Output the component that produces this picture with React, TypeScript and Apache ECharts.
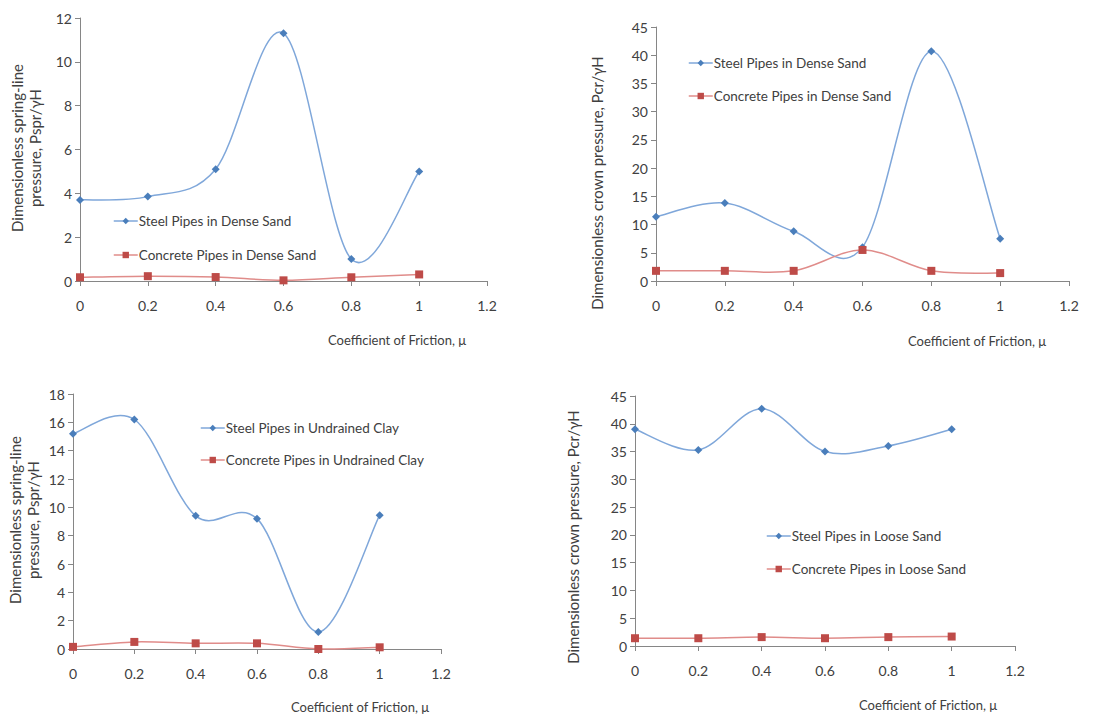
import React, { useEffect, useRef } from "react";
import * as echarts from "echarts";

const xValues = [0, 0.2, 0.4, 0.6, 0.8, 1];

// Panel 1: spring-line pressure, dense sand
const p1Steel = [3.7, 3.85, 5.1, 11.3, 1.0, 5.0];
const p1Concrete = [0.17, 0.22, 0.18, 0.03, 0.17, 0.3];
// Panel 2: crown pressure, dense sand
const p2Steel = [11.4, 13.8, 8.8, 6.0, 40.7, 7.5];
const p2Concrete = [1.8, 1.8, 1.8, 5.5, 1.8, 1.4];
// Panel 3: spring-line pressure, undrained clay
const p3Steel = [15.2, 16.2, 9.4, 9.2, 1.2, 9.45];
const p3Concrete = [0.15, 0.5, 0.4, 0.4, 0.0, 0.12];
// Panel 4: crown pressure, loose sand
const p4Steel = [39, 35.3, 42.7, 35, 36, 39];
const p4Concrete = [1.4, 1.4, 1.6, 1.4, 1.6, 1.7];

const yMax = [12, 45, 18, 45];
const yInterval = [2, 5, 2, 5];

const steelNames = [
  "Steel Pipes in Dense Sand",
  "Steel Pipes in Dense Sand ",
  "Steel Pipes in Undrained Clay",
  "Steel Pipes in Loose Sand",
];
const concreteNames = [
  "Concrete Pipes in Dense Sand",
  "Concrete Pipes in Dense Sand ",
  "Concrete Pipes in Undrained Clay",
  "Concrete Pipes in Loose Sand",
];
const xTitle = "Coefficient of Friction, μ";
const yTitles = [
  ["Dimensionless spring-line", "pressure, Pspr/γH"],
  ["Dimensionless crown pressure, Pcr/γH"],
  ["Dimensionless spring-line", "pressure, Pspr/γH"],
  ["Dimensionless crown pressure, Pcr/γH"],
];

const FONT = "Lato, 'Open Sans', sans-serif";
const TXT = "#404040";
const AXIS = "#868686";
const STEEL_LINE = "#7FA7DA";
const STEEL_MARK = "#4A7EBB";
const CONC_LINE = "#E08C8A";
const CONC_MARK = "#BE4B48";

const grids = [
  { left: 80, top: 18, width: 407, height: 263 },
  { left: 656, top: 27, width: 413, height: 254 },
  { left: 73, top: 394, width: 368, height: 255 },
  { left: 635, top: 396, width: 380, height: 250 },
];
const legendPos = [
  { left: 113, top: 213, gap: 18 },
  { left: 688, top: 55, gap: 17 },
  { left: 200, top: 420, gap: 16 },
  { left: 766, top: 528, gap: 17 },
];
const xTitlePos = [
  { x: 397, y: 340 },
  { x: 977, y: 341 },
  { x: 360, y: 707 },
  { x: 928, y: 705 },
];
const yTitlePos = [
  { x: 26, y: 148 },
  { x: 597, y: 183 },
  { x: 24, y: 520 },
  { x: 573, y: 537 },
];

const steelData = [p1Steel, p2Steel, p3Steel, p4Steel];
const concData = [p1Concrete, p2Concrete, p3Concrete, p4Concrete];

// Excel-like smoothed curve: one bezier segment per pair of points, computed in pixel space
function smoothSeries(idx: number, vals: number[], color: string) {
  return {
    type: "custom",
    xAxisIndex: idx,
    yAxisIndex: idx,
    z: 1,
    silent: true,
    data: xValues.slice(0, -1).map((x, k) => [x, vals[k]]),
    renderItem: (params: any, api: any) => {
      const k = params.dataIndex;
      const n = xValues.length;
      const pt = (j: number) => {
        const jj = Math.max(0, Math.min(n - 1, j));
        return api.coord([xValues[jj], vals[jj]]);
      };
      const p0 = pt(k - 1);
      const p1 = pt(k);
      const p2 = pt(k + 1);
      const p3 = pt(k + 2);
      const t = 1 / 6;
      return {
        type: "bezierCurve",
        shape: {
          x1: p1[0],
          y1: p1[1],
          x2: p2[0],
          y2: p2[1],
          cpx1: p1[0] + (p2[0] - p0[0]) * t,
          cpy1: p1[1] + (p2[1] - p0[1]) * t,
          cpx2: p2[0] - (p3[0] - p1[0]) * t,
          cpy2: p2[1] - (p3[1] - p1[1]) * t,
        },
        style: { stroke: color, lineWidth: 1.5, fill: "none" },
      };
    },
  };
}

export default function App() {
  const ref = useRef<HTMLDivElement>(null);
  useEffect(() => {
    if (!ref.current) return;
    const chart = echarts.init(ref.current, undefined, { renderer: "svg" });
    const series: any[] = [];
    const xAxis: any[] = [];
    const yAxis: any[] = [];
    const legend: any[] = [];
    const graphic: any[] = [];
    for (let i = 0; i < 4; i++) {
      xAxis.push({
        gridIndex: i,
        type: "value",
        min: 0,
        max: 1.2,
        interval: 0.2,
        axisLine: { show: true, lineStyle: { color: AXIS, width: 1 } },
        axisTick: { show: true, length: 5, lineStyle: { color: AXIS } },
        splitLine: { show: false },
        axisLabel: { color: TXT, fontFamily: FONT, fontSize: 14, margin: 17 },
      });
      yAxis.push({
        gridIndex: i,
        type: "value",
        min: 0,
        max: yMax[i],
        interval: yInterval[i],
        axisLine: { show: true, lineStyle: { color: AXIS, width: 1 } },
        axisTick: { show: true, length: 5, lineStyle: { color: AXIS } },
        splitLine: { show: false },
        axisLabel: { color: TXT, fontFamily: FONT, fontSize: 14, margin: 8 },
      });
      series.push(smoothSeries(i, steelData[i], STEEL_LINE));
      series.push(smoothSeries(i, concData[i], CONC_LINE));
      series.push({
        name: steelNames[i],
        type: "line",
        xAxisIndex: i,
        yAxisIndex: i,
        z: 3,
        data: xValues.map((x, k) => [x, steelData[i][k]]),
        symbol: "diamond",
        symbolSize: 8,
        lineStyle: { color: STEEL_LINE, width: 0, opacity: 0 },
        itemStyle: { color: STEEL_MARK },
      });
      series.push({
        name: concreteNames[i],
        type: "line",
        xAxisIndex: i,
        yAxisIndex: i,
        z: 3,
        data: xValues.map((x, k) => [x, concData[i][k]]),
        symbol: "rect",
        symbolSize: 8,
        lineStyle: { color: CONC_LINE, width: 0, opacity: 0 },
        itemStyle: { color: CONC_MARK },
      });
      legend.push({
        data: [
          { name: steelNames[i], lineStyle: { color: STEEL_LINE, width: 1.5, opacity: 1 } },
          { name: concreteNames[i], lineStyle: { color: CONC_LINE, width: 1.5, opacity: 1 } },
        ],
        orient: "vertical",
        left: legendPos[i].left,
        top: legendPos[i].top,
        padding: 0,
        itemWidth: 24,
        itemHeight: 8,
        itemGap: legendPos[i].gap,
        selectedMode: false,
        textStyle: {
          color: TXT,
          fontFamily: FONT,
          fontSize: 13.5,
          lineHeight: 16,
          padding: [0, 0, 0, -4],
        },
      });
      graphic.push({
        type: "text",
        x: xTitlePos[i].x,
        y: xTitlePos[i].y,
        style: {
          text: xTitle,
          fill: TXT,
          font: `13px ${FONT}`,
          textAlign: "center",
          textVerticalAlign: "middle",
        },
      });
      graphic.push({
        type: "text",
        x: yTitlePos[i].x,
        y: yTitlePos[i].y,
        rotation: Math.PI / 2,
        style: {
          text: yTitles[i].join("\n"),
          fill: TXT,
          font: `15px ${FONT}`,
          lineHeight: 18,
          textAlign: "center",
          textVerticalAlign: "middle",
        },
      });
    }
    chart.setOption({
      animation: false,
      backgroundColor: "#ffffff",
      grid: grids.map((g) => ({ ...g, containLabel: false })),
      xAxis,
      yAxis,
      series,
      legend,
      graphic,
    });
    return () => chart.dispose();
  }, []);
  return (
    <div
      ref={ref}
      style={{ position: "absolute", left: 0, top: 0, width: 1106, height: 718 }}
    />
  );
}
